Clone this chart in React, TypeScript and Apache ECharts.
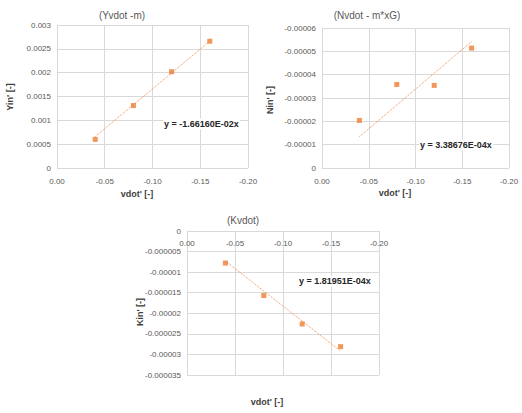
import React, { useEffect, useRef } from "react";
import * as echarts from "echarts";

// Chart 1: (Yvdot -m)
const xValues = [-0.04, -0.08, -0.12, -0.16];
const yinValues = [0.0006, 0.00131, 0.00202, 0.00266];
const yinTrend = [0.00066, 0.00266];
// Chart 2: (Nvdot - m*xG)
const ninValues = [-0.0000204, -0.0000358, -0.0000354, -0.0000514];
const ninTrend = [-0.0000134, -0.0000542];
// Chart 3: (Kvdot)
const kinValues = [-0.0000078, -0.0000157, -0.0000226, -0.0000281];
const kinTrend = [-0.0000073, -0.0000292];
const trendX = [-0.04, -0.16];

const titles = ["(Yvdot -m)", "(Nvdot - m*xG)", "(Kvdot)"];
const yNames = ["Yin' [-]", "Nin' [-]", "Kin' [-]"];
const xName = "vdot' [-]";
const equations = ["y = -1.66160E-02x", "y = 3.38676E-04x", "y = 1.81951E-04x"];

const FONT = "'Liberation Sans Narrow', 'Arial Narrow', 'Liberation Sans', sans-serif";
const ORANGE = "#ED7D31";
const GRID = "#d9d9d9";
const LABEL = "#595959";

const fmtX = (v: number) => (Math.abs(v) < 1e-9 ? "0.00" : v.toFixed(2));
const fmtY = (v: number) => (Math.abs(v) < 1e-12 ? "0" : String(+v.toFixed(7)));

export default function App() {
  const ref = useRef<HTMLDivElement>(null);
  useEffect(() => {
    if (!ref.current) return;
    const chart = echarts.init(ref.current, undefined, { renderer: "svg" });

    const xAxisBase = (gridIndex: number, top = false) => ({
      type: "value" as const,
      gridIndex,
      min: -0.2,
      max: 0,
      interval: 0.05,
      inverse: true,
      position: top ? "top" : "bottom",
      axisLine: { show: false },
      axisTick: { show: false },
      splitLine: { show: true, lineStyle: { color: GRID, width: 1 } },
      axisLabel: {
        formatter: fmtX,
        color: LABEL,
        fontSize: 8,
        fontFamily: FONT,
        inside: top,
        margin: top ? 8 : 9,
      },
    });

    const yAxisBase = (gridIndex: number, min: number, max: number, interval: number, inverse = false) => ({
      type: "value" as const,
      gridIndex,
      min,
      max,
      interval,
      inverse,
      axisLine: { show: false },
      axisTick: { show: false },
      splitLine: { show: true, lineStyle: { color: GRID, width: 1 } },
      axisLabel: { formatter: fmtY, color: LABEL, fontSize: 8, fontFamily: FONT, margin: 6 },
    });

    const scatter = (i: number, vals: number[]) => ({
      type: "scatter" as const,
      xAxisIndex: i,
      yAxisIndex: i,
      symbol: "rect",
      symbolSize: 5,
      itemStyle: { color: ORANGE },
      data: xValues.map((x, k) => [x, vals[k]]),
      z: 3,
    });
    const trend = (i: number, vals: number[]) => ({
      type: "line" as const,
      xAxisIndex: i,
      yAxisIndex: i,
      showSymbol: false,
      symbol: "none",
      lineStyle: { color: ORANGE, width: 1, type: "dotted" as const, opacity: 0.85 },
      data: trendX.map((x, k) => [x, vals[k]]),
      z: 2,
    });

    const text = (t: string, x: number, y: number, opts: any = {}) => ({
      type: "text" as const,
      x,
      y,
      z: 10,
      rotation: opts.rotation || 0,
      style: {
        text: t,
        x: 0,
        y: 0,
        textAlign: opts.align || "center",
        textVerticalAlign: "middle",
        fill: opts.color || LABEL,
        font: `${opts.bold ? "bold " : ""}${opts.size || 10}px ${FONT}`,
        ...(opts.bg ? { backgroundColor: "#ffffff", padding: [1, 1, 1, 1] } : {}),
      },
    });

    chart.setOption({
      animation: false,
      backgroundColor: "#ffffff",
      grid: [
        { left: 57, top: 25, width: 191, height: 143 },
        { left: 322, top: 28, width: 187, height: 140 },
        { left: 187, top: 231, width: 192, height: 144 },
      ],
      xAxis: [xAxisBase(0), xAxisBase(1), xAxisBase(2, true)],
      yAxis: [
        yAxisBase(0, 0, 0.003, 0.0005),
        yAxisBase(1, -0.00006, 0, 0.00001, true),
        yAxisBase(2, -0.000035, 0, 0.000005),
      ],
      series: [
        trend(0, yinTrend),
        scatter(0, yinValues),
        trend(1, ninTrend),
        scatter(1, ninValues),
        trend(2, kinTrend),
        scatter(2, kinValues),
      ],
      graphic: [
        text(titles[0], 122, 15, { size: 10 }),
        text(titles[1], 367, 15, { size: 10 }),
        text(titles[2], 243, 220, { size: 10 }),
        text(yNames[0], 10, 97, { rotation: Math.PI / 2, bold: true, color: "#404040", size: 9 }),
        text(yNames[1], 270, 100, { rotation: Math.PI / 2, bold: true, color: "#404040", size: 9 }),
        text(yNames[2], 140, 312, { rotation: Math.PI / 2, bold: true, color: "#404040", size: 9 }),
        text(xName, 137, 194, { bold: true, color: "#404040", size: 9 }),
        text(xName, 395, 193, { bold: true, color: "#404040", size: 9 }),
        text(xName, 267, 402, { bold: true, color: "#404040", size: 9 }),
        text(equations[0], 163, 124, { bold: true, color: "#262626", size: 9, align: "left", bg: true }),
        text(equations[1], 419, 145, { bold: true, color: "#262626", size: 9, align: "left", bg: true }),
        text(equations[2], 298, 281, { bold: true, color: "#262626", size: 9, align: "left", bg: true }),
      ],
    });
    return () => chart.dispose();
  }, []);
  return <div ref={ref} style={{ width: 522, height: 413, position: "absolute", left: 0, top: 0 }} />;
}
